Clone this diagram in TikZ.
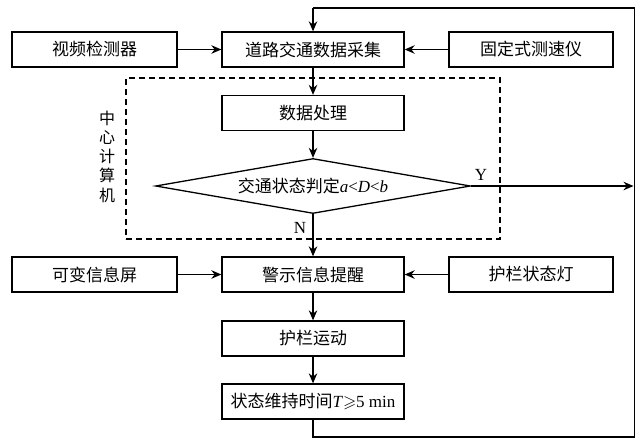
\documentclass[tikz,border=0pt]{standalone}
\usepackage{fontspec}
\usepackage{amssymb}
\setmainfont{Liberation Serif}
\newfontfamily\cjk{Noto Sans CJK SC}
\usetikzlibrary{arrows.meta,shapes.geometric}
\begin{document}
\begin{tikzpicture}[x=1pt,y=-1pt,
  box/.style={draw,line width=1.3pt,minimum height=35pt,inner sep=0pt,
    font=\fontsize{17}{20}\selectfont\cjk},
  midbox/.style={box,minimum width=182pt},
  sidebox/.style={box,minimum width=165pt},
  judge/.style={draw,diamond,line width=1.3pt,inner sep=0pt,aspect=5.7,
    minimum width=315pt,minimum height=55pt,font=\fontsize{17}{20}\selectfont},
  flow/.style={line width=1.3pt,-{Stealth[length=10pt,width=8.5pt]}},
  link/.style={line width=1.3pt},
  lbl/.style={inner sep=0pt,font=\fontsize{17}{19}\selectfont},
  group/.style={draw,line width=1.3pt,dash pattern=on 6pt off 4pt}
]
\useasboundingbox (0,0) rectangle (636,444);

% dashed group
\node[group,minimum width=374pt,minimum height=161pt,inner sep=0pt] (grp) at (313,158.5) {};
\node[inner sep=0pt,align=center,font=\fontsize{16}{19.25}\selectfont\cjk] (cc) at (107,156.5) {中\\心\\计\\算\\机};

% nodes
\node[midbox] (collect) at (313,49.5) {道路交通数据采集};
\node[sidebox] (video) at (94.5,49.5) {视频检测器};
\node[sidebox,minimum width=164pt] (speed) at (531,49.5) {固定式测速仪};
\node[midbox] (proc) at (313,113) {数据处理};
\node[judge] (judge) at (313,186) {{\cjk 交通状态判定}\textit{a}<\textit{D}<\textit{b}};
\node[midbox] (warn) at (313,274.5) {警示信息提醒};
\node[sidebox] (screen) at (94.5,274.5) {可变信息屏};
\node[sidebox,minimum width=164pt] (lamp) at (531,274.5) {护栏状态灯};
\node[midbox] (move) at (313,338.5) {护栏运动};
\node[midbox] (keep) at (313,401.5) {状态维持时间{\rmfamily\textit{T}$\geqslant$5 min}};

\coordinate (yend) at (633.5,186);
\coordinate (c1) at (313,437);
\coordinate (c2) at (634.5,437);
\coordinate (c3) at (634.5,8);
\coordinate (c4) at (313,8);

% connectors
\draw[flow] (video) -- (collect);
\draw[flow] (speed) -- (collect);
\draw[flow] (collect) -- (proc);
\draw[flow] (proc) -- (judge);
\draw[flow] (judge) -- (warn);
\draw[flow] (judge.east) -- (yend);
\draw[flow] (screen) -- (warn);
\draw[flow] (lamp) -- (warn);
\draw[flow] (warn) -- (move);
\draw[flow] (move) -- (keep);
\draw[link] (keep.south) -- (c1) -- (c2) -- (c3) -- (c4);
\draw[flow] (c4) -- (collect);

\node[lbl] (ylab) at (481,175) {Y};
\node[lbl] (nlab) at (300,228) {N};
\end{tikzpicture}
\end{document}
